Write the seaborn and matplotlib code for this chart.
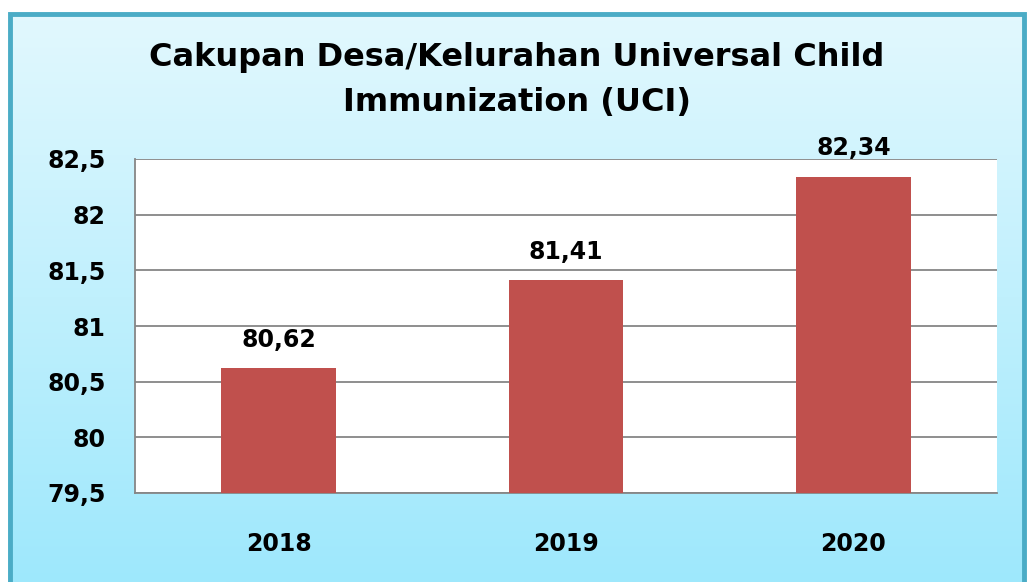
import numpy as np
import seaborn as sns
import matplotlib.pyplot as plt
import pandas as pd
from matplotlib.patches import Rectangle

years = ['2018', '2019', '2020']
coverage = [80.62, 81.41, 82.34]
y_ticks = [79.5, 80, 80.5, 81, 81.5, 82, 82.5]
y_tick_labels = ['79,5', '80', '80,5', '81', '81,5', '82', '82,5']

df = pd.DataFrame({'tahun': years, 'cakupan': coverage})

sns.set_style('white')
plt.rcParams['font.family'] = ['DejaVu Sans']
plt.rcParams['text.color'] = 'black'
plt.rcParams['xtick.color'] = 'black'
plt.rcParams['ytick.color'] = 'black'

W, H = 1027, 582
fig = plt.figure(figsize=(W / 100, H / 100), dpi=100)

# gradient background inside the frame
bg = fig.add_axes([8 / W, 0, (1026 - 8) / W, 1 - 12 / H], zorder=0)
grad = np.linspace(0, 1, 256).reshape(-1, 1)
top = np.array([0xE2, 0xF8, 0xFE]) / 255
bot = np.array([0x9E, 0xE8, 0xFC]) / 255
img = top + (bot - top) * grad[:, :, None]
bg.imshow(img, aspect='auto', extent=[0, 1, 0, 1])
bg.set_axis_off()
fig.patches.append(Rectangle((9.5 / W, -0.05), (1024 - 9.5) / W, 1 - 13.5 / H + 0.05,
                             transform=fig.transFigure, fill=False,
                             edgecolor='#4BACC6', linewidth=3.5, zorder=5))

ax = fig.add_axes([135 / W, 1 - 493 / H, (997 - 135) / W, (493 - 159) / H], zorder=2)
ax.set_facecolor('white')
sns.barplot(data=df, x='tahun', y='cakupan', color='#C0504D', width=0.4,
            saturation=1, linewidth=0, edgecolor='none', ax=ax, zorder=3)

ax.set_ylim(79.5, 82.5)
ax.set_yticks(y_ticks)
ax.set_yticklabels(y_tick_labels)
ax.yaxis.grid(True, color='#868686', linewidth=1.3, zorder=0)
ax.set_axisbelow(True)
for side in ['top', 'right']:
    ax.spines[side].set_visible(False)
for side in ['left', 'bottom']:
    ax.spines[side].set_color('#868686')
    ax.spines[side].set_linewidth(1.3)
ax.set_xlabel('')
ax.set_ylabel('')
ax.tick_params(axis='y', length=0, pad=21, labelsize=17)
ax.tick_params(axis='x', length=0, pad=28, labelsize=17)
for lab in ax.get_yticklabels():
    lab.set_fontweight('heavy')
for lab in ax.get_xticklabels():
    lab.set_fontweight('heavy')

for i, v in enumerate(coverage):
    ax.annotate(f'{v:.2f}'.replace('.', ','), (i, v), xytext=(0, 12),
                textcoords='offset points', ha='center', va='bottom',
                fontsize=17, fontweight='heavy')

fig.text(517 / W, 1 - 80 / H, 'Cakupan Desa/Kelurahan Universal Child\nImmunization (UCI)',
         ha='center', va='center', fontsize=23, fontweight='heavy',
         linespacing=1.6, zorder=6)

fig.savefig('out.png', dpi=100)
